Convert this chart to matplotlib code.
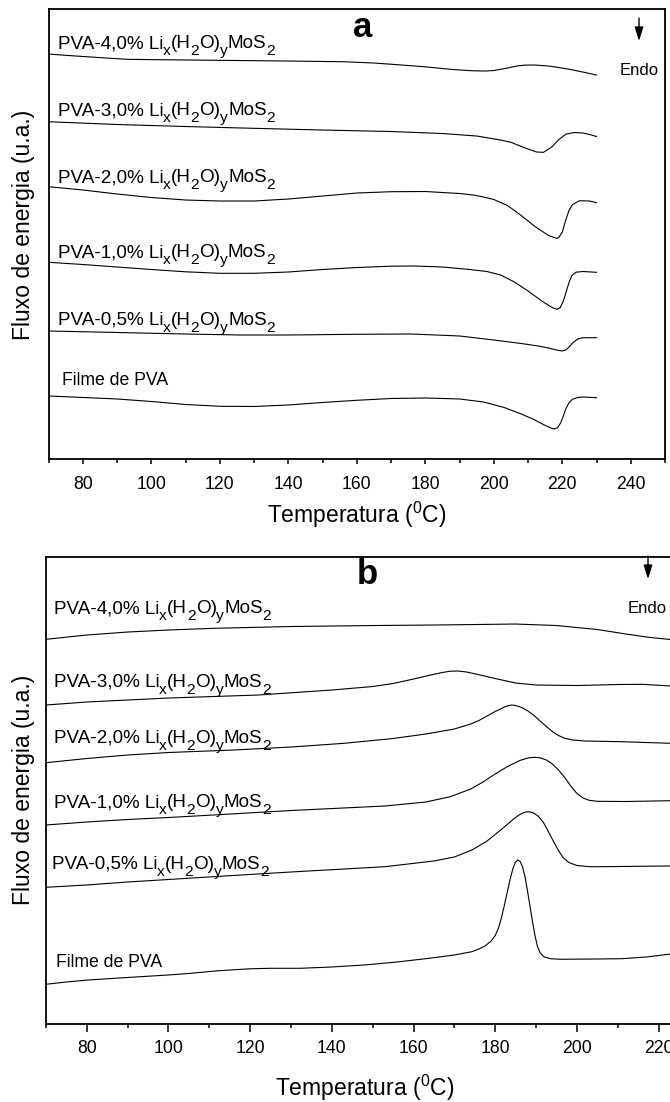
import matplotlib
matplotlib.use('Agg')
from matplotlib import pyplot as plt
from matplotlib.ticker import MultipleLocator, NullLocator

plt.rcParams['font.family'] = ['Liberation Sans', 'DejaVu Sans']
plt.rcParams['mathtext.fontset'] = 'custom'
plt.rcParams['mathtext.rm'] = 'Liberation Sans'

# --- DSC (a): temperatura (C) e fluxo de energia (u.a., curvas deslocadas) ---
a40_T = [70, 75, 85, 93, 100, 120, 140, 156, 165, 170, 180, 188, 193.5, 197.5, 200, 204, 207, 209, 212, 216,
         218, 222, 226, 230]
a40_F = [405, 403.7, 401.4, 399.7, 399.4, 398.7, 398, 397.3, 396, 394.8, 392.2, 389.5, 388.3, 388, 388.5, 391, 393.2, 393.9, 394, 393,
         392, 389.8, 387, 384]

a30_T = [70, 90, 110, 130, 150, 170, 185, 195, 202, 205, 209, 212.5, 214.5, 217, 219, 221, 223.5, 226, 228, 230]
a30_F = [337.3, 334.5, 332.5, 330.7, 329, 327.5, 325.5, 323, 319, 316.7, 311.2, 307, 306.7, 312.2, 319.5, 324.8, 326.5, 326, 324.5, 322.5]

a20_T = [70, 80, 90, 100, 110, 120, 130, 140, 150, 160, 170, 180, 190, 194, 197, 200, 204, 208, 212, 216,
         218.3, 218.9, 220, 221, 222, 223, 225, 228, 230]
a20_F = [272.3, 269, 265, 261.5, 259, 258, 258, 260, 263, 266, 267.3, 267.5, 265.5, 264, 262, 259.5, 253.5, 243.5, 232.5, 223.5,
         220.7, 221.2, 227, 239, 249, 254.5, 258.3, 258, 256.3]

a10_T = [70, 80, 90, 100, 110, 120, 130, 140, 150, 160, 170, 177, 185, 193, 198, 202, 206, 210, 214, 217,
         218.5, 219.4, 220.3, 221.2, 222, 222.8, 224, 226, 230]
a10_F = [196.7, 194.5, 192, 189.5, 187.2, 185.7, 185.7, 187, 189.5, 191.5, 192.8, 193, 192, 189.5, 187.5, 184, 177, 168, 158, 151.5,
         149.7, 151.5, 158, 168, 177, 183.5, 186.8, 187.5, 186.7]

a05_T = [70, 90, 110, 126, 140, 160, 176, 190, 200, 208, 213, 216, 218, 219.8, 221, 222, 223, 224.5, 226, 230]
a05_F = [128, 126.5, 125, 124, 124, 124.7, 125, 123, 119, 115.5, 113, 111, 109.2, 108, 109, 112, 116, 120, 121.3, 121.3]

a00_T = [70, 80, 90, 100, 110, 120, 130, 140, 150, 160, 170, 180, 190, 197, 203, 208, 212, 215, 216.8, 217.6,
         218.6, 219.5, 220.3, 221, 222, 223, 224.5, 226, 230]
a00_F = [63, 61.5, 60, 57.5, 54.5, 52.7, 52.5, 54, 56.5, 58.7, 60.5, 61, 60, 57, 51.5, 45, 39, 33.5, 30.8, 30,
         31.2, 36, 43, 50, 56.5, 59.8, 61.5, 62, 61.3]

# --- DSC (b) ---
b40_T = [70, 80, 90, 100, 111, 130, 150, 165, 185, 195, 205, 212, 218, 223, 230]
b40_F = [384.7, 389, 392, 394, 395.7, 397.5, 398.5, 399, 400, 398.5, 394.5, 390, 386.5, 384.5, 383]

b30_T = [70, 80, 90, 100, 122, 140, 150, 155, 160, 164, 167, 169, 171, 173, 176, 180, 185, 190, 200, 210,
         216, 223, 230]
b30_F = [319, 322, 324, 326, 329, 334, 337.5, 340.5, 345, 348.8, 351.5, 352.8, 353, 352, 349.3, 345.5, 341, 339, 338.5, 339.5,
         339.7, 338, 337.5]

b20_T = [70, 80, 90, 100, 116, 130, 143, 155, 163, 170, 174, 176, 178, 180, 182, 183, 184, 185, 186.5, 188,
         189.5, 191, 192.5, 194, 195.5, 197, 199, 202, 206, 211, 217, 223, 230]
b20_F = [261.3, 265.5, 269, 271.5, 274, 277, 280.7, 285.5, 290, 295, 300, 303.5, 308, 312.5, 316.5, 318.2, 319, 318.5, 316.5, 313,
         308.5, 303, 297.5, 292.5, 288.5, 285.7, 284, 283, 282.7, 282.3, 281.5, 280.7, 280]

b10_T = [70, 80, 90, 100, 111, 130, 153, 163, 169, 174, 177, 179.6, 183, 186, 188, 189.5, 191, 192.5, 194, 195.5,
         197, 198.5, 200, 201.5, 203, 205, 212, 223, 230]
b10_F = [199, 202, 204.5, 206.5, 209, 213.5, 218, 222, 227.3, 235, 242, 249, 257.5, 263.5, 266, 266.7, 266.2, 264, 260, 254,
         246.5, 238, 230.5, 226, 223.7, 222.7, 222.5, 223.3, 223.5]

b05_T = [70, 80, 90, 100, 111, 130, 153, 165, 170, 174.3, 178, 181.5, 184.5, 186, 187.2, 188.2, 189.3, 190.5, 191.8, 193,
         194.2, 195.4, 196.6, 198, 200, 203, 206, 215, 223, 230]
b05_F = [136.7, 139, 142, 144.5, 147.3, 152, 157.3, 163, 167, 174, 183, 194.5, 205, 209.5, 211.7, 212.3, 211.2, 208, 201.5, 192.5,
         183, 174, 166.5, 161.5, 158.5, 157.3, 157.3, 157.7, 158, 158]

b00_T = [70, 75, 80.4, 90, 100, 105, 112, 120, 125, 132.3, 140, 148, 156, 163.8, 170, 174.3, 176, 177.5, 179, 180,
         180.8, 181.5, 182.2, 182.9, 183.6, 184.3, 184.9, 185.5, 186.1, 186.7, 187.3, 187.9, 188.5, 189.1, 189.7, 190.3, 191, 192, 193.5,
         196, 205, 211, 217, 223, 230]
b00_F = [39.7, 42, 44, 46.5, 49, 50.5, 53.2, 55.2, 55.7, 55.7, 57, 59, 62, 65.7, 69, 72.3, 75, 78, 83, 88.5,
         96, 106, 118, 131, 144, 155, 161.5, 164, 162.5, 157, 147, 133, 118, 103, 89, 78, 71, 67, 65.3,
         64.7, 65, 65.3, 67, 70, 73]

teores = ['4,0%', '3,0%', '2,0%', '1,0%', '0,5%']


def rotulo(ax, x, y, teor, size=13.6):
    # PVA-x% Lix(H2O)yMoS2 com subscritos montados pedaco por pedaco
    partes = [('PVA-' + teor + ' Li', False), ('x', True), ('(H', False), ('2', True),
              ('O)', False), ('y', True), ('MoS', False), ('2', True)]
    base = ax.text(x, y, partes[0][0], fontsize=size, va='baseline', ha='left')
    prev = base
    for s, sub in partes[1:]:
        prev = ax.annotate(s, xy=(1, 0), xycoords=(prev, base),
                           xytext=(-0.3 if sub else 0.2, -4.4 if sub else 0), textcoords='offset points',
                           fontsize=size * 0.82 if sub else size, va='bottom', ha='left')


def estilo(ax, xmax, ymax, maj, minr, pad):
    ax.set_xlim(70, xmax)
    ax.set_ylim(0, ymax)
    ax.xaxis.set_major_locator(MultipleLocator(20))
    ax.xaxis.set_minor_locator(MultipleLocator(10))
    ax.yaxis.set_major_locator(NullLocator())
    ax.tick_params(axis='x', which='major', direction='out', length=maj, width=1.1, labelsize=12.7, pad=pad)
    ax.tick_params(axis='x', which='minor', direction='out', length=minr, width=1.1)
    for s in ax.spines.values():
        s.set_linewidth(1.3)


seta = dict(arrowstyle='-|>,head_length=0.7,head_width=0.22', color='black', lw=1,
            shrinkA=0, shrinkB=0, mutation_scale=12)

fig = plt.figure(figsize=(6.7, 11.02), dpi=100)

# painel a
ax1 = fig.add_axes([0.0727, 0.5835, 0.9199, 0.4083])
for T, F in [(a40_T, a40_F), (a30_T, a30_F), (a20_T, a20_F), (a10_T, a10_F), (a05_T, a05_F), (a00_T, a00_F)]:
    ax1.plot(T, F, color='black', lw=0.8)
estilo(ax1, 250, 450, 3.6, 2.9, 9)
for teor, yb in zip(teores, [411, 344, 277, 202, 134]):
    rotulo(ax1, 72.7, yb, teor)
ax1.text(73.9, 74, 'Filme de PVA', fontsize=12.7, va='baseline')
ax1.text(161.6, 432, 'a', fontsize=25, fontweight='bold', ha='center', va='center')
ax1.annotate('', xy=(242.4, 418), xytext=(242.4, 441), arrowprops=seta)
ax1.text(242.4, 388.5, 'Endo', fontsize=12, ha='center', va='center')
ax1.set_xlabel(r'Temperatura ($\mathregular{^0}$C)', fontsize=16.5, va='center')
ax1.xaxis.set_label_coords(0.5, -0.124)
ax1.set_ylabel('Fluxo de energia (u.a.)', fontsize=16.5, va='center')
ax1.yaxis.set_label_coords(-0.0408, 0.52)

# painel b
ax2 = fig.add_axes([0.0685, 0.0708, 0.9755, 0.4240])
for T, F in [(b40_T, b40_F), (b30_T, b30_F), (b20_T, b20_F), (b10_T, b10_F), (b05_T, b05_F), (b00_T, b00_F)]:
    ax2.plot(T, F, color='black', lw=0.8)
estilo(ax2, 230, 467.3, 5.8, 3.1, 5.8)
for teor, x, yb in zip(teores, [72.06, 71.9, 71.9, 71.9, 71.4], [410.7, 337.3, 281.3, 217, 155]):
    rotulo(ax2, x, yb, teor)
ax2.text(72.5, 57.3, 'Filme de PVA', fontsize=12.7, va='baseline')
ax2.text(148.6, 450, 'b', fontsize=25, fontweight='bold', ha='center', va='center')
ax2.annotate('', xy=(217.4, 445), xytext=(217.4, 468), arrowprops=seta)
ax2.text(212.5, 416, 'Endo', fontsize=12, ha='left', va='center')
ax2.set_xlabel(r'Temperatura ($\mathregular{^0}$C)', fontsize=16.5, va='center')
ax2.xaxis.set_label_coords(0.487, -0.137)
ax2.set_ylabel('Fluxo de energia (u.a.)', fontsize=16.5, va='center')
ax2.yaxis.set_label_coords(-0.035, 0.5)

fig.savefig('out.png', dpi=100)
